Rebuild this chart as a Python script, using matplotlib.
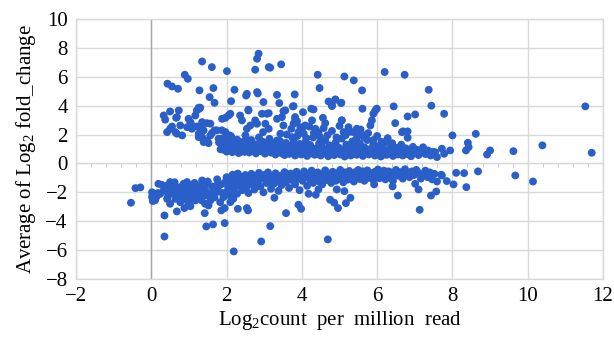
import numpy as np
import matplotlib.pyplot as plt
from matplotlib.ticker import MultipleLocator

# (log2 count per million, average log2 fold change)
upper_sparse = [
    (1.35, 7.06), (1.61, 6.67), (2.01, 6.39), (2.85, 7.60), (2.81, 7.25), (2.76, 6.49),
    (3.12, 6.67), (0.89, 6.14), (0.97, 5.86), (0.43, 5.52), (0.55, 5.33), (0.71, 5.17),
    (1.28, 5.06), (1.65, 5.22), (1.55, 4.59), (1.68, 4.20), (2.21, 5.10), (2.12, 4.31),
    (2.54, 4.82), (2.52, 4.70), (2.81, 4.94), (2.83, 4.85), (2.98, 4.25), (2.58, 3.67),
    (1.28, 3.79), (1.21, 3.67), (3.16, 6.63), (3.45, 6.86), (4.42, 6.14), (4.47, 5.22),
    (5.13, 6.02), (5.38, 5.75), (5.60, 5.06), (6.20, 6.33), (3.34, 4.75), (3.81, 4.78),
    (3.40, 4.18), (3.78, 3.97), (4.71, 4.29), (4.89, 4.43), (4.80, 3.97), (5.05, 4.20),
    (5.61, 3.79), (5.95, 3.67), (5.90, 3.44), (5.86, 2.98), (5.06, 2.98), (3.51, 3.62),
    (3.12, 3.48), (4.03, 3.55), (4.25, 3.79), (4.31, 3.74), (6.73, 6.14), (7.37, 5.10),
    (7.44, 4.00), (7.78, 3.44), (6.44, 3.95), (5.99, 3.79), (7.01, 3.39), (6.81, 3.25),
    (6.48, 2.79), (6.69, 2.22), (6.81, 2.22), (6.81, 1.78), (8.00, 1.94), (8.62, 2.05),
    (8.41, 1.43), (8.43, 1.13), (8.36, 0.90), (8.92, 0.62), (9.00, 0.90), (7.94, 0.90),
    (7.72, 1.02), (7.54, 0.78), (7.59, 0.44), (7.78, 0.67), (9.62, 0.85), (10.39, 1.25),
    (11.53, 3.95), (11.70, 0.74), (3.76, 3.95), (4.80, 4.02), (4.89, 4.41), (5.04, 4.18),
]

upper_band = [
    (0.33, 3.32), (0.37, 3.03), (0.50, 3.60), (0.42, 2.17), (0.55, 2.56), (0.66, 3.16),
    (0.73, 3.67), (0.77, 2.63), (0.68, 2.06), (0.82, 1.94), (0.99, 3.09), (1.04, 2.86),
    (1.17, 3.32), (1.26, 3.86), (1.30, 3.86), (1.08, 2.40), (1.21, 2.56), (1.35, 2.86),
    (1.48, 2.79), (1.57, 2.75), (1.26, 2.06), (1.35, 1.82), (1.39, 1.48), (1.52, 1.41),
    (1.61, 2.10), (1.68, 2.29), (1.88, 3.09), (1.97, 3.16), (2.05, 3.32), (2.10, 3.44),
    (1.88, 2.29), (1.97, 2.17), (1.83, 1.71), (2.08, 1.94), (2.14, 1.59), (0.68, 3.21),
    (0.64, 2.17), (0.95, 2.51), (1.08, 2.63), (1.39, 2.29), (1.48, 1.59), (1.57, 1.94),
    (1.74, 2.29), (1.79, 1.71), (1.88, 1.36), (2.01, 1.59), (2.14, 1.13), (2.28, 1.36),
    (2.36, 0.78), (2.54, 1.13), (1.35, 2.40), (1.26, 1.82), (0.50, 2.40),
    (1.92, 0.95), (2.05, 1.32), (2.19, 1.25), (2.28, 1.13), (2.36, 1.32), (2.45, 1.13),
    (2.54, 1.02), (2.58, 1.59), (2.36, 3.32), (2.41, 2.98), (2.54, 2.40), (2.63, 2.63),
    (2.76, 2.98), (2.81, 2.75), (2.94, 3.44), (3.07, 3.44), (3.03, 2.75), (3.12, 2.40),
    (2.97, 2.17), (2.90, 1.59), (2.98, 1.36), (3.12, 1.36), (3.21, 1.13), (3.34, 1.59),
    (3.43, 2.06), (3.51, 2.63), (3.47, 3.21), (3.56, 3.67), (3.34, 3.09), (3.43, 1.02),
    (3.60, 0.78), (3.78, 1.36), (3.87, 1.13), (3.74, 1.82), (3.78, 2.75), (3.82, 3.21),
    (3.91, 2.17), (2.58, 3.72), (3.82, 3.03), (3.87, 2.93), (3.96, 2.51), (4.09, 2.63),
    (4.05, 2.06), (4.27, 2.98), (4.36, 2.40), (4.44, 2.17), (4.56, 3.16), (4.62, 2.79),
    (5.06, 2.98), (5.11, 2.17), (5.24, 2.51), (5.37, 2.17), (5.46, 2.40), (5.51, 1.94),
    (5.68, 1.94), (5.82, 2.63), (6.66, 2.17),
    (1.80, 1.45), (1.84, 0.98), (1.90, 1.72), (1.95, 1.20), (2.00, 0.82), (2.03, 1.55),
    (2.08, 1.05), (2.12, 1.88), (2.15, 0.78), (2.20, 1.40), (2.24, 0.95), (2.28, 1.65),
    (2.32, 0.72), (2.35, 1.18), (2.40, 0.88), (2.43, 1.50), (2.48, 0.80), (2.50, 1.95),
    (2.55, 1.28), (2.60, 0.76), (2.62, 1.05), (2.66, 1.62), (2.70, 0.90), (2.74, 1.32),
    (2.78, 0.70), (2.82, 1.12), (2.86, 1.80), (2.90, 0.85), (2.94, 1.02), (2.98, 1.48),
    (3.02, 0.68), (3.05, 1.22), (3.10, 0.92), (3.14, 1.70), (3.18, 0.75), (3.22, 1.38),
    (3.26, 1.00), (3.30, 0.62), (3.34, 1.25), (3.38, 0.88), (3.42, 1.55), (3.46, 0.70),
    (3.50, 1.10), (3.54, 0.58), (3.58, 1.42), (3.62, 0.95), (3.66, 0.66), (3.70, 1.20),
    (3.74, 0.80), (3.78, 1.65), (3.82, 0.55), (3.86, 1.02), (3.90, 0.75), (3.94, 1.35),
    (3.98, 0.62), (4.02, 1.12), (4.06, 0.85), (4.10, 1.50), (4.14, 0.52), (4.18, 0.98),
    (4.22, 1.28), (4.26, 0.70), (4.30, 1.80), (4.34, 0.60), (4.38, 1.05), (4.42, 0.82),
    (4.46, 1.40), (4.50, 0.55), (4.54, 1.15), (4.58, 0.72), (4.62, 1.58), (4.66, 0.92),
    (4.70, 0.50), (4.74, 1.25), (4.78, 0.78), (4.82, 1.02), (4.86, 0.58), (4.90, 1.45),
    (4.94, 0.85), (4.98, 1.10), (5.02, 0.62), (5.06, 1.72), (5.10, 0.95), (5.14, 0.48),
    (5.18, 1.30), (5.22, 0.75), (5.26, 1.05), (5.30, 0.55), (5.34, 1.52), (5.38, 0.82),
    (5.42, 1.18), (5.46, 0.60), (5.50, 0.98), (5.54, 1.40), (5.58, 0.70), (5.62, 0.52),
    (5.66, 1.12), (5.70, 0.85), (5.74, 1.62), (5.78, 0.62), (5.82, 1.00), (5.86, 0.78),
    (5.90, 1.30), (5.94, 0.55), (5.98, 0.92), (6.02, 1.18), (6.06, 0.68), (6.10, 0.48),
    (6.14, 1.05), (6.18, 0.80), (6.22, 1.45), (6.26, 0.60), (6.30, 0.95), (6.34, 0.72),
    (6.38, 1.22), (6.42, 0.52), (6.46, 0.88), (6.50, 1.08), (6.55, 0.62), (6.60, 0.92),
    (6.64, 1.30), (6.68, 0.55), (6.72, 0.80), (6.76, 1.05), (6.80, 0.65), (6.85, 0.90),
    (6.90, 0.50), (6.95, 1.15), (7.00, 0.72), (7.05, 0.95), (7.10, 0.58), (7.16, 0.85),
    (7.22, 1.12), (7.28, 0.65), (7.35, 0.90), (7.42, 0.55), (7.48, 0.80),
    (2.05, 0.92), (2.18, 1.12), (2.38, 1.30), (2.52, 1.02), (2.68, 1.15), (2.84, 0.95),
    (3.00, 1.18), (3.16, 1.05), (3.28, 0.82), (3.40, 1.02), (3.56, 0.82), (3.68, 0.98),
    (3.80, 0.88), (3.92, 1.10), (4.04, 0.70), (4.16, 0.88), (4.28, 0.98), (4.40, 0.65),
    (4.52, 0.90), (4.64, 0.68), (4.76, 0.95), (4.88, 0.72), (5.00, 0.88), (5.12, 0.68),
    (5.24, 0.92), (5.36, 0.65), (5.48, 0.80), (5.60, 0.90), (5.72, 0.72), (5.84, 0.88),
    (5.96, 0.70), (6.08, 0.90), (6.20, 0.62), (6.32, 0.82), (6.44, 0.70),
    (3.60, 2.00), (3.72, 2.40), (3.88, 1.90), (4.00, 2.30), (4.12, 1.75), (4.20, 2.55),
    (4.32, 2.10), (4.48, 1.85), (4.58, 2.45), (4.68, 1.95), (4.80, 2.25), (4.92, 1.80),
    (5.00, 2.60), (5.16, 1.95), (5.28, 2.20), (5.44, 1.68), (5.56, 2.35), (5.66, 1.80),
    (5.76, 2.10), (5.90, 1.62), (6.00, 1.90), (6.12, 1.50), (6.28, 1.75), (6.40, 1.40),
]

lower_sparse = [
    (-0.54, -2.72), (-0.42, -1.71), (-0.29, -1.66), (0.35, -3.60), (0.35, -5.06),
    (0.68, -3.32), (0.88, -3.09), (1.04, -2.96), (1.42, -3.44), (1.46, -4.36),
    (1.64, -4.22), (1.95, -4.13), (2.19, -6.09), (1.86, -3.25), (1.95, -3.09),
    (2.30, -3.14), (2.54, -3.09), (2.57, -3.25), (3.16, -4.34), (2.92, -5.40),
    (3.58, -3.44), (3.27, -2.38), (4.69, -5.26), (4.75, -2.51), (4.86, -2.72),
    (4.96, -3.09), (5.17, -2.75), (5.29, -2.38), (5.13, -1.92), (4.93, -1.80),
    (3.91, -2.86), (3.98, -3.14), (4.18, -2.10), (4.37, -2.17), (4.44, -1.80),
    (5.92, -1.45), (6.41, -1.59), (6.55, -2.22), (7.13, -3.21), (7.10, -1.80),
    (7.01, -1.41), (7.57, -1.94), (7.43, -2.22), (7.59, -1.25), (7.70, -0.78),
    (7.85, -1.22), (8.03, -1.45), (8.37, -1.64), (8.10, -0.65), (8.31, -0.67),
    (8.68, -0.55), (7.72, -0.83), (9.67, -0.83), (10.14, -1.25),
]

lower_band = [
    (0.02, -2.00), (0.05, -2.35), (0.08, -2.15), (0.10, -2.55), (0.14, -2.28),
    (0.18, -2.05), (0.06, -2.10), (0.02, -2.33), (0.11, -2.45), (0.15, -2.22),
    (0.19, -1.41), (0.28, -1.48), (0.24, -2.10), (0.33, -1.87), (0.04, -2.60),
    (0.50, -1.29), (0.59, -1.52), (0.68, -1.75), (0.77, -1.64), (0.86, -1.41),
    (0.95, -1.29), (1.08, -1.52), (1.21, -1.75), (1.35, -1.18), (1.39, -1.75),
    (1.48, -1.41), (0.42, -2.45), (0.50, -2.79), (0.64, -2.45), (0.77, -2.68),
    (0.90, -2.33), (0.99, -2.79), (1.17, -2.56), (1.30, -2.33), (1.43, -2.79),
    (1.52, -2.91), (1.57, -2.56), (0.59, -2.10), (0.73, -2.10), (0.86, -1.98),
    (0.99, -2.10), (1.12, -1.98), (1.26, -2.10), (1.43, -2.22), (0.50, -1.98),
    (1.61, -2.33), (1.66, -1.87), (1.74, -1.52), (1.83, -2.68), (1.92, -2.33),
    (2.01, -1.98), (2.05, -1.41), (2.14, -1.18), (2.23, -0.83), (2.32, -1.06),
    (2.45, -0.95), (2.58, -1.29), (2.67, -0.83),
    (0.40, -1.55), (0.45, -2.20), (0.55, -1.80), (0.62, -1.30), (0.70, -2.30),
    (0.80, -1.90), (0.85, -2.50), (0.92, -1.60), (1.00, -1.85), (1.05, -2.40),
    (1.15, -1.35), (1.20, -2.15), (1.28, -1.55), (1.33, -2.55), (1.45, -1.90),
    (1.50, -1.25), (1.55, -2.10), (1.62, -1.60), (1.68, -2.35), (1.75, -1.10),
    (1.80, -1.95), (1.85, -1.45), (1.90, -2.05), (1.96, -1.30),
    (2.00, -0.95), (2.04, -1.65), (2.08, -2.20), (2.10, -2.68), (2.18, -2.45),
    (2.12, -1.40), (2.16, -0.78), (2.20, -1.90), (2.25, -1.25), (2.28, -2.10),
    (2.30, -0.70), (2.34, -1.55), (2.38, -1.05), (2.42, -1.85), (2.46, -1.35),
    (2.50, -0.80), (2.54, -1.60), (2.58, -2.05), (2.62, -1.10), (2.66, -0.72),
    (2.70, -1.45), (2.74, -1.80), (2.78, -0.95), (2.82, -1.25), (2.86, -0.65),
    (2.90, -1.60), (2.94, -1.05), (2.98, -2.00), (3.02, -0.80), (3.06, -1.35),
    (3.10, -0.62), (3.14, -1.15), (3.18, -1.75), (3.22, -0.90), (3.26, -1.40),
    (3.30, -0.68), (3.34, -1.20), (3.38, -1.90), (3.42, -0.85), (3.46, -1.50),
    (3.50, -1.05), (3.54, -0.60), (3.58, -1.30), (3.62, -0.95), (3.66, -1.70),
    (3.70, -0.70), (3.74, -1.15), (3.78, -0.88), (3.82, -1.45), (3.86, -0.58),
    (3.90, -1.05), (3.94, -1.85), (3.98, -0.75),
    (2.06, -1.20), (2.22, -1.60), (2.36, -0.95), (2.48, -1.15), (2.60, -1.35),
    (2.72, -0.98), (2.84, -1.45), (2.96, -0.82), (3.08, -1.02), (3.20, -1.30),
    (3.32, -0.98), (3.44, -1.12), (3.56, -0.90), (3.68, -1.05), (3.80, -1.22),
    (3.92, -0.92),
    (4.02, -1.20), (4.06, -0.55), (4.10, -0.95), (4.14, -1.55), (4.18, -0.72),
    (4.22, -1.10), (4.26, -0.50), (4.30, -1.35), (4.34, -0.85), (4.38, -1.05),
    (4.42, -0.62), (4.46, -1.25), (4.50, -0.78), (4.54, -1.45), (4.58, -0.95),
    (4.62, -0.48), (4.66, -1.15), (4.70, -0.70), (4.74, -1.00), (4.78, -1.35),
    (4.82, -0.58), (4.86, -0.88), (4.90, -1.20), (4.94, -0.68), (4.98, -1.05),
    (5.02, -0.45), (5.06, -0.92), (5.10, -1.30), (5.14, -0.62), (5.18, -0.85),
    (5.22, -1.12), (5.26, -0.52), (5.30, -0.98), (5.34, -0.72), (5.38, -1.25),
    (5.42, -0.60), (5.46, -0.90), (5.50, -0.45), (5.54, -1.08), (5.58, -0.75),
    (5.62, -0.55), (5.66, -1.20), (5.70, -0.82), (5.74, -0.48), (5.78, -1.00),
    (5.82, -0.65), (5.86, -0.90), (5.90, -1.15), (5.94, -0.58), (5.98, -0.80),
    (6.02, -0.42), (6.06, -1.02), (6.10, -0.68), (6.14, -0.88), (6.18, -0.50),
    (6.22, -1.10), (6.26, -0.72), (6.30, -0.55), (6.34, -0.95), (6.38, -0.62),
    (6.42, -1.20), (6.46, -0.78), (6.50, -0.45), (6.56, -0.85), (6.62, -0.60),
    (6.68, -1.05), (6.74, -0.40), (6.80, -0.72), (6.86, -0.95), (6.92, -0.55),
    (6.98, -0.80), (7.04, -0.45), (7.10, -0.65), (7.16, -1.05), (7.22, -0.78),
    (7.28, -0.50), (7.34, -0.95), (7.40, -0.62), (7.46, -1.10), (7.52, -0.72),
    (4.08, -0.80), (4.24, -0.92), (4.40, -0.80), (4.56, -0.70), (4.72, -0.85),
    (4.88, -0.75), (5.04, -0.70), (5.20, -0.72), (5.36, -0.85), (5.52, -0.70),
    (5.68, -0.65), (5.84, -0.78), (6.00, -0.70), (6.16, -0.72), (6.32, -0.80),
    (6.48, -0.62), (6.64, -0.85), (6.90, -0.70),
]

x_ticks = [-2, 0, 2, 4, 6, 8, 10, 12]
y_ticks = [-8, -6, -4, -2, 0, 2, 4, 6, 8, 10]

plt.rcParams['font.family'] = ['Liberation Serif', 'DejaVu Serif']
plt.rcParams['mathtext.fontset'] = 'custom'
plt.rcParams['mathtext.rm'] = 'Liberation Serif'
plt.rcParams['mathtext.it'] = 'Liberation Serif:italic'

pts = np.array(upper_band + upper_sparse + lower_band + lower_sparse)

fig = plt.figure(figsize=(6.14, 3.37), dpi=100)
ax = fig.add_axes([76 / 614, 1 - 279 / 337, 527 / 614, 260 / 337])

grid_col = '#d9d9d9'
ax.set_xlim(-2, 12)
ax.set_ylim(-8, 10)
ax.set_xticks(x_ticks)
ax.set_yticks(y_ticks)
ax.grid(True, color=grid_col, linewidth=1.0, zorder=0)
ax.set_axisbelow(True)
for s in ax.spines.values():
    s.set_color(grid_col)
    s.set_linewidth(1.0)
ax.tick_params(length=0, labelsize=15, pad=6)

# axis lines crossing at the origin
ax.axvline(0, color='#a6a6a6', linewidth=1.0, zorder=1)
sec = ax.secondary_xaxis(0, transform=ax.transData)
sec.spines['bottom'].set_color('#bfbfbf')
sec.xaxis.set_major_locator(MultipleLocator(2))
sec.xaxis.set_minor_locator(MultipleLocator(0.4))
sec.tick_params(which='both', direction='out', length=3, color='#bfbfbf',
                labelbottom=False)

ax.scatter(pts[:, 0], pts[:, 1], s=32, color='#2a5ec8', edgecolors='none',
           zorder=3)

ax.set_ylabel('Average of Log$_2$ fold_change', fontsize=15, labelpad=5)
ax.set_xlabel('Log$_2$count  per  million  read', fontsize=15, labelpad=2)

fig.savefig('out.png', dpi=100)
